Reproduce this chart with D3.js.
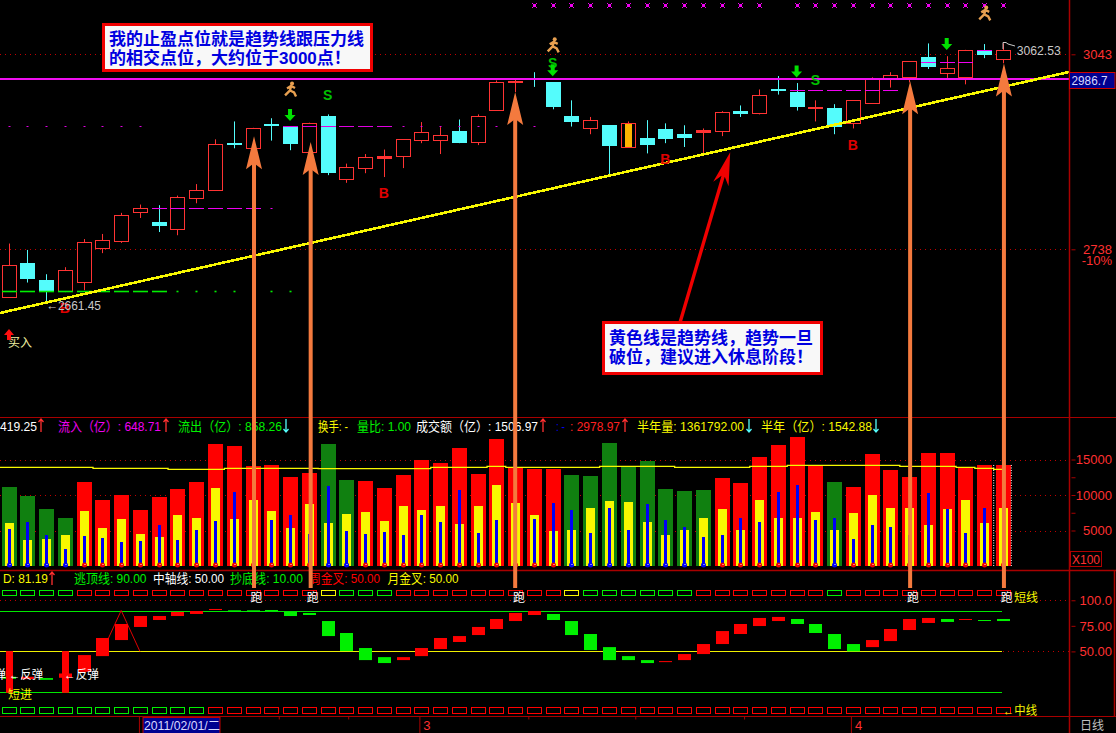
<!DOCTYPE html>
<html><head><meta charset="utf-8">
<style>html,body{margin:0;padding:0;background:#000;overflow:hidden}svg{display:block}
text{font-family:"Liberation Sans","Noto Sans CJK SC",sans-serif}</style>
<script src="https://cdn.jsdelivr.net/npm/d3@7/dist/d3.min.js"></script></head><body>
<script>
// ---------- data ----------
const candleOpen=[2663,2716,2690,2673,2687,2740,2751,2796,2780,2770,2818,2831,2905,2896,2934,2929,2890,2946,2848,2865,2881,2884,2909,2909,2923,2906,2956,2999,3006,2999,2946,2928,2932,2898,2912,2926,2918,2921,2923,2954,2951,2988,2984,2959,2959,2936,2967,3004,3008,3038,3014,3008,3050,3036];
const candleHigh=[2747,2737,2699,2710,2754,2762,2795,2808,2807,2822,2840,2910,2938,2928,2943,2929,2936,2949,2872,2887,2894,2910,2937,2929,2941,2949,3002,3004,3015,2999,2971,2945,2932,2938,2940,2935,2932,2927,2954,2963,2988,3009,2998,2971,2965,2971,3007,3015,3032,3060,3040,3050,3059,3060];
const candleLow=[2662,2686,2654,2671,2674,2732,2748,2787,2765,2760,2810,2830,2896,2896,2908,2893,2890,2854,2842,2857,2851,2865,2904,2887,2904,2901,2956,2984,2992,2957,2930,2918,2854,2898,2888,2904,2898,2887,2915,2945,2949,2980,2955,2938,2918,2927,2967,2991,2999,3020,3006,2996,3037,3029];
const candleClose=[2714,2691,2673,2706,2750,2753,2792,2802,2774,2820,2831,2903,2903,2928,2931,2902,2936,2858,2866,2883,2884,2910,2922,2917,2905,2946,2999,3002,3003,2960,2937,2941,2899,2935,2901,2910,2912,2924,2952,2949,2980,2985,2960,2960,2930,2971,3004,3010,3032,3023,3022,3050,3042,3050];
const volume=[11127,9860,8028,6761,11831,9296,10000,7888,9719,10845,11831,17184,16902,14085,14226,12536,13099,17184,12113,11972,10986,12817,14930,14508,16620,12958,17888,13944,13662,13662,12817,12676,17325,14085,14789,10845,10564,10704,12395,11690,15353,17043,18170,14085,11831,11127,15775,13522,12536,15916,15916,13897,14226,14226];
const volYellow=[6057,3662,3803,4366,7747,5352,6620,4507,4085,7183,6761,10986,6620,9296,7747,5352,8733,6057,7324,7606,6338,8451,7888,8451,5916,8451,11409,8873,7183,4930,5070,8169,9155,9014,6197,4366,5070,6761,8028,5070,9296,6761,6761,7606,5070,7465,10000,8169,8169,5775,8028,9296,6057,8169];
const volBlue=[5211,6197,4366,2394,4225,3944,3380,3521,5775,3662,5070,6338,10423,4789,6479,7183,4507,11268,4930,4507,4789,4366,7183,6197,10704,4648,6479,6009,6620,8873,7888,4648,8169,5070,8733,6479,5493,4085,4366,6761,6197,10423,11409,6479,6761,3803,5775,5493,4366,10282,8028,4648,8169,6197];
const volGreenIdx=[0,1,2,3,17,18,30,31,32,33,34,35,36,37,44];
const volAvg=[13897,13897,13897,13897,13897,13756,13756,13756,13756,13615,13615,13615,13756,13756,13756,13756,13756,13709,13709,13709,13709,13709,13709,13897,13897,13897,14038,13897,13897,13897,13897,13897,14038,14038,14038,14038,13897,13897,13897,13897,14038,14038,14179,14179,14179,14179,14179,14179,14038,14038,14038,13897,13756,13615];
const oscOpen=[25.2,22.9,23.9,24.2,30,45.4,61.1,73.9,80.7,84.6,86.6,90.5,90.2,90.2,90.5,88.6,87.6,79.7,68,53.3,44.4,41.5,45.4,52.3,59.2,66,71.9,79.7,85.6,86.6,79.7,67,54.2,45.4,41.5,39.9,41.5,47.4,57.2,67,74.8,79.7,81.7,76.8,67,57.2,54.2,60.1,70.9,77.8,81.7,81,80.7,81.7];
const oscClose=[23.2,25.2,22.2,28.4,46.4,63.1,76.8,84.6,84.6,88.6,89.5,91.5,88.6,88.6,90.2,84.6,85.6,65,50.3,41.5,38.6,44.4,53.3,63.1,65,73.9,81.7,87.6,89.5,80.7,66,51.3,41.5,41.5,38.6,40.5,47.4,57.2,69.9,76.8,82.7,83.7,76.8,68,52.3,50,61.1,71.9,81.7,82.7,78.8,81.7,80.1,79.7];
const oscSpikeIdx=[0,3], oscSpikeRange=[9.5,50.3];
const oscTriangle=[[5,50],[6,90],[7,50]];
const topBoxColor=["g","g","g","g","r","r","r","r","r","r","r","r","r","r","r","r","r","y","g","g","g","r","r","r","r","r","r","r","r","r","y","g","g","g","g","g","g","r","r","r","r","r","r","r","g","r","r","r","r","r","r","r","r","r"];
const bottomGreenCount=11;
const oscLevels=[90,50,10];
const xMarkIdx=[28,29,30,31,32,33,34,35,36,37,38,39,40,42,43,44,45,46,47,48,49,50,51,52,53];
const levelValues=[2931.5,2802,2673.4,2986.7,3031.6,3050.4];
const levelDashIdx=[[15,16,17,18,19,20],[8,9,10,11,12,13],[0,1,2,3,4,5,6,7,8],[42,43,44,45,46,47],[49,50,51],[52]];
const levelDotIdx=[[0,1,2,3,4,5,6,7,21,22,23,24,25,26,27,28],[14],[9,10,11,12,13,14,15],[],[],[]];
const sellMarks=[[17,2971],[29,3021.6],[43,2994.6]];
const buyMarks=[[20,2818],[35,2871],[45,2893],[3,2638]];
const downArrows=[[15,2948],[29,3018],[42,3016],[50,3059]];
const runners=[[15,2988],[29,3057],[52,3107]];
const priceTicks=[3043,2738], volTicks=[15000,10000,5000], volMinor=[12500,7500], oscTicks=[100,75,50];
const trendIdx=[-0.458,56.52], trendPrice=[2638.4,3015.4];
const resistance=3004;
const arrowIdx=[13.08,16.1,27,48.05,53.05], arrowTipPrice=[2915,2906,2984,3001,3028.5];
const redArrow=[35.79,2623.9,38.46,2889.8];
const monthTicks=[7,22,45], minorTicks=[14.4,18.1,27.7,33.4,39.2];
const runLabelIdx=[13.1,16.1,27.1,48.1,53.1];
const headerRow1=["419.25","流入（亿）: 648.71","流出（亿）: 858.26","换手: -","量比: 1.00","成交额（亿）: 1506.97",": -",": 2978.97","半年量: 1361792.00","半年（亿）: 1542.88"];
const headerRow2=["D: 81.19","逃顶线: 90.00","中轴线: 50.00","抄底线: 10.00","周金叉: 50.00","月金叉: 50.00"];

// ---------- scales ----------
const W=1116,H=733,axisX=1069.5;
const x=d3.scaleLinear().domain([0,53]).range([8.6,1003]);
const py=d3.scaleLinear().domain([2738,3043]).range([249.3,54.3]);
const vy=d3.scaleLinear().domain([0,15000]).range([566,459.5]);
const oy=d3.scaleLinear().domain([10,90]).range([692.3,610.5]);
const svg=d3.select("body").append("svg").attr("width",W).attr("height",H).style("background","#000");
const cx=i=>Math.round(x(i))+.5, sy=v=>Math.round(v)+.5;
const layer=(p=svg)=>p.append("g");
const hline=(g,y,x0,x1,c,o={})=>g.append("line").attr("x1",x0).attr("x2",x1).attr("y1",y).attr("y2",y).attr("stroke",c).attr("stroke-width",o.w||1).attr("stroke-dasharray",o.d||null);

// ---------- grid ----------
const grid=layer();
const DOT="1 4", gridC="#c00000";
[...priceTicks.map(py),...volTicks.map(vy),oy(100)].forEach(y=>hline(grid,sy(y),0,axisX,gridC,{d:DOT}));
hline(grid,sy(oy(50)),1003,axisX,gridC,{d:DOT});

// ---------- candles ----------
const cg=layer();
candleOpen.forEach((o,i)=>{
  const c=candleClose[i],up=c>=o,col=up?"#ff3333":"#54fcfc",X=cx(i);
  const top=Math.round(py(Math.max(o,c))),bot=Math.round(py(Math.min(o,c)));
  cg.append("line").attr("x1",X).attr("x2",X).attr("y1",py(candleHigh[i])).attr("y2",py(candleLow[i])).attr("stroke",col);
  if(up){
    cg.append("rect").attr("x",X-7).attr("y",top+.5).attr("width",14).attr("height",Math.max(bot-top,1)).attr("fill",bot-top<3?col:"#000").attr("stroke",col);
    if(i===33) cg.append("rect").attr("x",X-3.5).attr("y",top+1).attr("width",7).attr("height",bot-top-1).attr("fill","#ffb400");
  } else cg.append("rect").attr("x",X-7.5).attr("y",top).attr("width",15).attr("height",Math.max(bot-top,2)).attr("fill",col);
});
// level dashes
const lv=layer();
const levelColor=["#e000e0","#f000f0","#00f000","#f000f0","#f000f0","#f000f0"];
levelValues.forEach((p,k)=>{const y=sy(py(p)),c=levelColor[k],w=k===2?1.6:1;
  levelDashIdx[k].forEach(i=>hline(lv,y,cx(i)-7.5,cx(i)+7.5,c,{w}));
  levelDotIdx[k].forEach(i=>hline(lv,y,cx(i)-1,cx(i)+1,c,{w}));
});
// x marks at the top
const mk=layer();
xMarkIdx.forEach(i=>{const X=Math.round(x(i)),Y=4;
  mk.append("rect").attr("x",X-1).attr("y",Y-0).attr("width",3).attr("height",3).attr("fill","#f000f0");
  [[-2,-1],[2,-1],[-2,3],[2,3]].forEach(d=>mk.append("rect").attr("x",X+d[0]).attr("y",Y+d[1]).attr("width",1).attr("height",1).attr("fill","#f000f0"));
});
// resistance + trend
const ry=Math.round(py(resistance));
hline(svg,ry,0,axisX,"#f010f0",{w:2});
const tl=d3.line().x((d,i)=>x(trendIdx[i])).y(d=>py(d));
svg.append("path").attr("d",tl(trendPrice)).attr("stroke","#f8f800").attr("stroke-width",2.6).attr("fill","none").attr("shape-rendering","crispEdges");
// S / B marks
sellMarks.forEach(d=>svg.append("text").attr("x",x(d[0])).attr("y",py(d[1])).attr("text-anchor","middle").attr("font-size",14).attr("font-weight",700).attr("fill","#00c000").text("S"));
buyMarks.forEach(d=>svg.append("text").attr("x",x(d[0])).attr("y",py(d[1])).attr("text-anchor","middle").attr("font-size",14).attr("font-weight",700).attr("fill","#e00000").text("B"));
downArrows.forEach(d=>{const X=x(d[0]),Y=py(d[1]);
  svg.append("path").attr("d",`M${X-2},${Y-6}h4v6h3.5l-5.5,6l-5.5,-6h3.5z`).attr("fill","#00e000");});
runners.forEach(d=>{const g=svg.append("g").attr("transform",`translate(${x(d[0])+1},${py(d[1])})`).attr("stroke","#e8a050").attr("fill","none").attr("stroke-width",2.4);
  g.append("circle").attr("cx",1).attr("cy",-6).attr("r",2).attr("fill","#e8a050").attr("stroke","none");
  g.append("path").attr("d","M-4,-1L0,-3.5L4,-1.5M0,-3.5L-1,1L-6,6M-1,1L3,3L5,7");
});
// labels on main
const lab=(t,X,Y,c,s=13,a="start",len=null)=>{const e=svg.append("text").attr("x",X).attr("y",Y).attr("fill",c).attr("font-size",s).attr("text-anchor",a).text(t);
  if(len) e.attr("textLength",len).attr("lengthAdjust","spacingAndGlyphs");return e;};
lab("←2661.45",46,310,"#c8c8c8",13,"start",55);
lab("3062.53",1016.7,55,"#c8c8c8",13,"start",44);
svg.append("path").attr("d","M1003,49V42.5h3l2,1.5l7,2").attr("stroke","#c8c8c8").attr("fill","none");
lab("买入",8,347,"#f0f0a0",12);
svg.append("path").attr("d","M9,329l5,6h-3v5h-4v-5h-3z").attr("fill","#ff1010");

// ---------- volume ----------
const vg=layer();
const bars=(vals,w,colf)=>vals.forEach((v,i)=>vg.append("rect").attr("x",Math.round(x(i))+.5-w/2).attr("y",vy(v)).attr("width",w).attr("height",vy(0)-vy(v)).attr("fill",colf(i)));
bars(volume,15,i=>volGreenIdx.includes(i)?"#108010":"#ff0000");
bars(volYellow,9,()=>"#f8f800");
bars(volBlue,3,()=>"#0000f8");
volume.forEach((v,i)=>{const g=volGreenIdx.includes(i);
  vg.append("circle").attr("cx",cx(i)).attr("cy",565).attr("r",2.5).attr("fill",g?"#0000f8":"#f00000");
  vg.append("rect").attr("x",cx(i)).attr("y",564).attr("width",1).attr("height",1).attr("fill","#fff");});
const avgPts=[[-0.46,volAvg[0]],...volAvg.map((v,i)=>[i,v])];
svg.append("path").attr("d",d3.line().x(d=>x(d[0])).y(d=>vy(d[1])).curve(d3.curveStep)(avgPts)).attr("stroke","#f8f800").attr("stroke-width",1.3).attr("fill","none");
[993.7,1011.3].forEach(X=>svg.append("line").attr("x1",X).attr("x2",X).attr("y1",vy(14226)).attr("y2",566).attr("stroke","#fff").attr("stroke-dasharray","1 1.5"));

// ---------- oscillator ----------
const og=layer();
const oscLevelColor=["#00e800","#f0f000","#00e800"];
oscLevels.forEach((v,k)=>hline(og,sy(oy(v)),0,1002,oscLevelColor[k]));
og.append("path").attr("d",d3.line().x(d=>x(d[0])).y(d=>oy(d[1]))(oscTriangle)).attr("stroke","#e00000").attr("fill","none");
oscOpen.forEach((o,i)=>{const c=oscClose[i],col=c>=o?"#ff0000":"#00f000";
  const top=oy(Math.max(o,c)),bot=oy(Math.min(o,c));
  og.append("rect").attr("x",cx(i)-6.5).attr("y",top).attr("width",13).attr("height",Math.max(bot-top,1)).attr("fill",col);});
oscSpikeIdx.forEach(i=>og.append("rect").attr("x",cx(i)-3.5).attr("y",oy(oscSpikeRange[1])).attr("width",7).attr("height",oy(oscSpikeRange[0])-oy(oscSpikeRange[1])).attr("fill","#ff0000"));
const boxC={g:"#00f000",r:"#ff0000",y:"#f8f800"};
topBoxColor.forEach((c,i)=>{
  og.append("rect").attr("x",cx(i)-7).attr("y",590.5).attr("width",14).attr("height",5).attr("fill","none").attr("stroke",boxC[c]);
  og.append("rect").attr("x",cx(i)-7).attr("y",707.5).attr("width",14).attr("height",6).attr("fill","none").attr("stroke",i<bottomGreenCount?boxC.g:boxC.r);
});
lab("反弹",-18,679,"#fff",12);
lab("←反弹",9,679,"#fff",12,"start",34);
lab("←反弹",64,679,"#fff",12,"start",35);
lab("短进",8,699,"#f8f800",12);
runLabelIdx.forEach(i=>lab("跑",x(i)+2,602,"#fff",12,"middle"));
lab("短线",1014,602,"#f8f800",12);
lab("←中线",1003,714.5,"#f8f800",12,"start",34);

// ---------- frame ----------
const fr=layer(), fc="#a80000";
hline(fr,417.5,0,W,fc);hline(fr,570.5,0,W,fc,{w:1.5});hline(fr,716.5,0,W,fc);
fr.append("line").attr("x1",axisX).attr("x2",axisX).attr("y1",0).attr("y2",H).attr("stroke",fc).attr("stroke-width",1.5);
fr.append("line").attr("x1",1114.5).attr("x2",1114.5).attr("y1",570).attr("y2",717).attr("stroke",fc).attr("stroke-width",1.5);
function rightAxis(scale,vals,fmt){
  const a=d3.axisRight(scale).tickValues(vals).tickSize(5).tickFormat(fmt);
  const g=svg.append("g").attr("transform",`translate(${axisX},0)`).call(a);
  g.select(".domain").remove();
  g.selectAll("line").attr("stroke",fc).attr("x1",2).attr("x2",6);
  g.selectAll("text").attr("x",1112-axisX).attr("text-anchor","end").attr("fill","#ff3030").attr("font-size",13).attr("font-family",null);
  return g;
}
rightAxis(py,priceTicks,d=>d);
rightAxis(vy,volTicks,d=>d);
rightAxis(vy,volMinor,()=>"");
rightAxis(oy,oscTicks,d=>d===100?"100.0":d.toFixed(2));
lab("-10%",1112,265,"#ff3030",13,"end");
svg.append("rect").attr("x",1069.5).attr("y",72.5).attr("width",45.5).attr("height",16).attr("fill","#000090").attr("stroke","#d00000");
lab("2986.7",1071.5,85,"#d8d8ff",13,"start",36);
svg.append("rect").attr("x",1070.5).attr("y",551.5).attr("width",31).attr("height",15).attr("fill","none").attr("stroke","#b00000");
lab("X100",1072,564,"#ff3030",13,"start",28);
lab("日线",1080,730,"#c0c0c0",12);

// date axis
const ax=svg.append("g").attr("transform","translate(0,716.5)").call(d3.axisBottom(x).tickValues(monthTicks.slice(1)).tickSize(17).tickFormat(d=>monthTicks.indexOf(d)+2));
ax.select(".domain").remove();
ax.selectAll("line").attr("stroke",fc).attr("transform","translate(-2,0)");
ax.selectAll("text").attr("y",1.5).attr("x",1.5).attr("dy","0.9em").attr("fill","#ff3030").attr("font-size",13).attr("text-anchor","start").attr("font-family",null);
const ax2=svg.append("g").attr("transform","translate(0,716.5)").call(d3.axisBottom(x).tickValues(minorTicks).tickSize(3).tickFormat(""));
ax2.select(".domain").remove();ax2.selectAll("line").attr("stroke",fc);
svg.append("line").attr("x1",x(monthTicks[0])-.5).attr("x2",x(monthTicks[0])-.5).attr("y1",717).attr("y2",H).attr("stroke",fc);
svg.append("rect").attr("x",143).attr("y",717.5).attr("width",77).attr("height",16).attr("fill","#000090").attr("stroke","#c00000");
lab("2011/02/01/二",144,730,"#d8d8ff",13,"start",76);

// headers
const row1Layout=[[0,37,"#fff"],[58,103,"#f000f0"],[178,104,"#00f000"],[318,30,"#f8f800"],[357,54,"#00f000"],[416,122,"#fff"],[556,9,"#0000ff"],[570,50,"#ff2020"],[637,107,"#f8f800"],[761,111,"#f8f800"]];
const row2Layout=[[3,45,"#f8f800"],[74,72.5,"#00f000"],[153,71,"#fff"],[230,73,"#00f000"],[309,71,"#ff0000"],[387.5,71,"#f8f800"]];
headerRow1.forEach((t,k)=>lab(t,row1Layout[k][0],430.5,row1Layout[k][2],13,"start",row1Layout[k][1]));
headerRow2.forEach((t,k)=>lab(t,row2Layout[k][0],583,row2Layout[k][2],13,"start",row2Layout[k][1]));
const tickArrow=(X,up,c)=>svg.append("path").attr("d",up?`M${X},432V419M${X-2.5},422L${X},419L${X+2.5},422`:`M${X},419V432M${X-2.5},429L${X},432L${X+2.5},429`).attr("stroke",c).attr("fill","none").attr("stroke-width",1.3);
[[41,1,"#ff3030"],[166,1,"#ff3030"],[286,0,"#54fcfc"],[543,1,"#ff3030"],[625,1,"#ff3030"],[749,0,"#54fcfc"],[876,0,"#54fcfc"]].forEach(d=>tickArrow(d[0],d[1],d[2]));
svg.append("path").attr("d","M52,585V572M49.5,575L52,572L54.5,575").attr("stroke","#ff3030").attr("fill","none").attr("stroke-width",1.3);

// ---------- annotation arrows ----------
const ORANGE="#f47a3e";
arrowIdx.forEach((a,k)=>{const X=x(a),t=py(arrowTipPrice[k]),b=oy(112);
  svg.append("rect").attr("x",X-2).attr("y",t+20).attr("width",4).attr("height",b-t-20).attr("fill",ORANGE);
  svg.append("path").attr("d",`M${X},${t}L${X+8},${t+33}L${X},${t+27}L${X-8},${t+33}Z`).attr("fill",ORANGE);
});
(()=>{const X0=x(redArrow[0]),Y0=py(redArrow[1]),X1=x(redArrow[2]),Y1=py(redArrow[3]);
  const L=Math.hypot(X1-X0,Y1-Y0),ux=(X1-X0)/L,uy=(Y1-Y0)/L,nx=-uy,ny=ux;
  const P=(a,b)=>`${X1-ux*a+nx*b},${Y1-uy*a+ny*b}`;
  svg.append("path").attr("d",`M${X0-nx*1.7},${Y0-ny*1.7}L${P(25,-1.7)}L${P(33,-8)}L${P(0,0)}L${P(33,8)}L${P(25,1.7)}L${X0+nx*1.7},${Y0+ny*1.7}Z`).attr("fill","#f00000");
})();

// ---------- callouts ----------
function callout(bx,by,bw,bh,lines,size){
  svg.append("rect").attr("x",bx+1.5).attr("y",by+1.5).attr("width",bw-3).attr("height",bh-3).attr("fill","#f8f8f8").attr("stroke","#f00000").attr("stroke-width",3);
  lines.forEach(l=>svg.append("text").attr("x",l[1]).attr("y",l[2]).attr("fill","#0000e0").attr("font-size",size).attr("font-weight",700).text(l[0]));
}
callout(102,23,271,49,[["我的止盈点位就是趋势线跟压力线",109,45],["的相交点位，大约位于3000点！",109,64]],17);
callout(602,321,221,54,[["黄色线是趋势线，趋势一旦",609,343.5],["破位，建议进入休息阶段！",609,362.5]],17);
</script></body></html>
